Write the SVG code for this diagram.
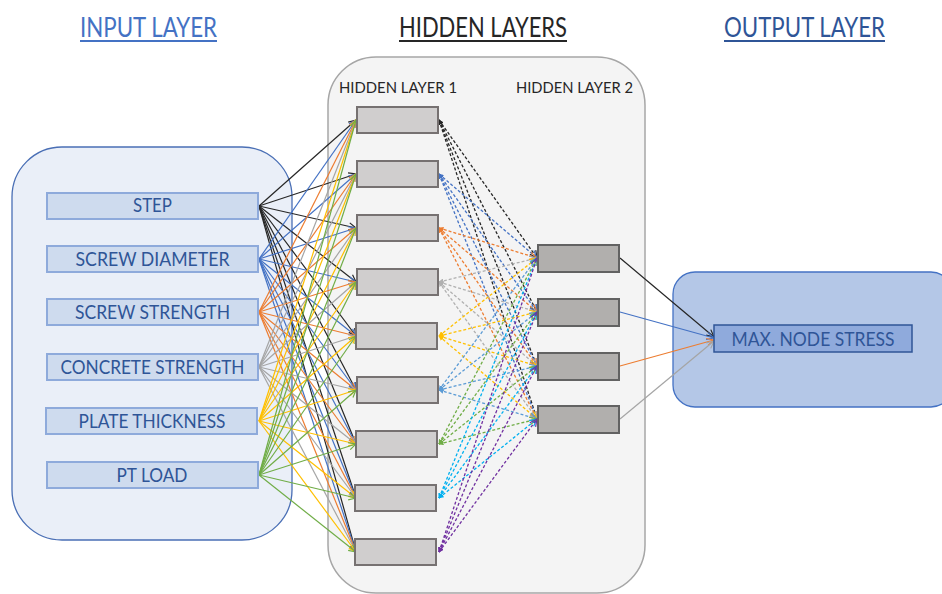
<svg xmlns="http://www.w3.org/2000/svg" width="942" height="594" viewBox="0 0 942 594">
<style>
text{font-family:Lato,"Liberation Sans",sans-serif}
.title{font-size:26px}
.lbl{font-size:16px;fill:#262626}
.in rect{fill:#cedbee;stroke:#8eaadb;stroke-width:2}
.in text{font-size:19px;fill:#2f5597;text-anchor:middle}
.h1 rect{fill:#d0cece;stroke:#767171;stroke-width:2}
.h2 rect{fill:#b1afad;stroke:#626262;stroke-width:2}
line{stroke-width:1.2;fill:none}
.ck{stroke:#262626;marker-end:url(#ak)}
.cb{stroke:#4472c4;marker-end:url(#ab)}
.co{stroke:#ed7d31;marker-end:url(#ao)}
.cg{stroke:#a5a5a5;marker-end:url(#ag)}
.cy{stroke:#ffc000;marker-end:url(#ay)}
.cgr{stroke:#70ad47;marker-end:url(#agr)}
.d line{stroke-dasharray:3 2;stroke-width:1.3}
.dk{stroke:#262626;marker-start:url(#sk);marker-end:url(#ak)}
.db{stroke:#4472c4;marker-start:url(#sb);marker-end:url(#ab)}
.do{stroke:#ed7d31;marker-start:url(#so);marker-end:url(#ao)}
.dg{stroke:#b0b0b0;marker-start:url(#sg);marker-end:url(#ag)}
.dy{stroke:#ffc000;marker-start:url(#sy);marker-end:url(#ay)}
.dlb{stroke:#5b9bd5;marker-start:url(#slb);marker-end:url(#alb)}
.dgr{stroke:#70ad47;marker-start:url(#sgr);marker-end:url(#agr)}
.dc{stroke:#00b0f0;marker-start:url(#sc);marker-end:url(#ac)}
.dp{stroke:#7030a0;marker-start:url(#sp);marker-end:url(#ap)}
</style>
<defs>
<marker id="ak" viewBox="0 0 10 10" refX="9" refY="5" markerWidth="9" markerHeight="9" orient="auto" markerUnits="userSpaceOnUse"><path d="M1,1 L9,5 L1,9" fill="none" stroke="#262626" stroke-width="1.3"/></marker>
<marker id="ab" viewBox="0 0 10 10" refX="9" refY="5" markerWidth="9" markerHeight="9" orient="auto" markerUnits="userSpaceOnUse"><path d="M1,1 L9,5 L1,9" fill="none" stroke="#4472c4" stroke-width="1.3"/></marker>
<marker id="ao" viewBox="0 0 10 10" refX="9" refY="5" markerWidth="9" markerHeight="9" orient="auto" markerUnits="userSpaceOnUse"><path d="M1,1 L9,5 L1,9" fill="none" stroke="#ed7d31" stroke-width="1.3"/></marker>
<marker id="ag" viewBox="0 0 10 10" refX="9" refY="5" markerWidth="9" markerHeight="9" orient="auto" markerUnits="userSpaceOnUse"><path d="M1,1 L9,5 L1,9" fill="none" stroke="#a5a5a5" stroke-width="1.3"/></marker>
<marker id="ay" viewBox="0 0 10 10" refX="9" refY="5" markerWidth="9" markerHeight="9" orient="auto" markerUnits="userSpaceOnUse"><path d="M1,1 L9,5 L1,9" fill="none" stroke="#ffc000" stroke-width="1.3"/></marker>
<marker id="agr" viewBox="0 0 10 10" refX="9" refY="5" markerWidth="9" markerHeight="9" orient="auto" markerUnits="userSpaceOnUse"><path d="M1,1 L9,5 L1,9" fill="none" stroke="#70ad47" stroke-width="1.3"/></marker>
<marker id="alb" viewBox="0 0 10 10" refX="9" refY="5" markerWidth="9" markerHeight="9" orient="auto" markerUnits="userSpaceOnUse"><path d="M1,1 L9,5 L1,9" fill="none" stroke="#5b9bd5" stroke-width="1.3"/></marker>
<marker id="ac" viewBox="0 0 10 10" refX="9" refY="5" markerWidth="9" markerHeight="9" orient="auto" markerUnits="userSpaceOnUse"><path d="M1,1 L9,5 L1,9" fill="none" stroke="#00b0f0" stroke-width="1.3"/></marker>
<marker id="ap" viewBox="0 0 10 10" refX="9" refY="5" markerWidth="9" markerHeight="9" orient="auto" markerUnits="userSpaceOnUse"><path d="M1,1 L9,5 L1,9" fill="none" stroke="#7030a0" stroke-width="1.3"/></marker>
<marker id="sk" viewBox="0 0 10 10" refX="1" refY="5" markerWidth="5" markerHeight="5" orient="auto" markerUnits="userSpaceOnUse"><path d="M0,5 L10,0 L10,10 Z" fill="#262626"/></marker>
<marker id="sb" viewBox="0 0 10 10" refX="1" refY="5" markerWidth="5" markerHeight="5" orient="auto" markerUnits="userSpaceOnUse"><path d="M0,5 L10,0 L10,10 Z" fill="#4472c4"/></marker>
<marker id="so" viewBox="0 0 10 10" refX="1" refY="5" markerWidth="5" markerHeight="5" orient="auto" markerUnits="userSpaceOnUse"><path d="M0,5 L10,0 L10,10 Z" fill="#ed7d31"/></marker>
<marker id="sg" viewBox="0 0 10 10" refX="1" refY="5" markerWidth="5" markerHeight="5" orient="auto" markerUnits="userSpaceOnUse"><path d="M0,5 L10,0 L10,10 Z" fill="#b0b0b0"/></marker>
<marker id="sy" viewBox="0 0 10 10" refX="1" refY="5" markerWidth="5" markerHeight="5" orient="auto" markerUnits="userSpaceOnUse"><path d="M0,5 L10,0 L10,10 Z" fill="#ffc000"/></marker>
<marker id="slb" viewBox="0 0 10 10" refX="1" refY="5" markerWidth="5" markerHeight="5" orient="auto" markerUnits="userSpaceOnUse"><path d="M0,5 L10,0 L10,10 Z" fill="#5b9bd5"/></marker>
<marker id="sgr" viewBox="0 0 10 10" refX="1" refY="5" markerWidth="5" markerHeight="5" orient="auto" markerUnits="userSpaceOnUse"><path d="M0,5 L10,0 L10,10 Z" fill="#70ad47"/></marker>
<marker id="sc" viewBox="0 0 10 10" refX="1" refY="5" markerWidth="5" markerHeight="5" orient="auto" markerUnits="userSpaceOnUse"><path d="M0,5 L10,0 L10,10 Z" fill="#00b0f0"/></marker>
<marker id="sp" viewBox="0 0 10 10" refX="1" refY="5" markerWidth="5" markerHeight="5" orient="auto" markerUnits="userSpaceOnUse"><path d="M0,5 L10,0 L10,10 Z" fill="#7030a0"/></marker>
</defs>
<rect width="942" height="594" fill="#ffffff"/>

<!-- titles -->
<g id="titles">
<text class="title" x="80" y="37" textLength="137" lengthAdjust="spacingAndGlyphs" fill="#4472c4">INPUT LAYER</text>
<rect x="80" y="40" width="137" height="2" fill="#4472c4"/>
<text class="title" x="399" y="37" textLength="168" lengthAdjust="spacingAndGlyphs" fill="#262626">HIDDEN LAYERS</text>
<rect x="399" y="40" width="168" height="2" fill="#262626"/>
<text class="title" x="724" y="37" textLength="161" lengthAdjust="spacingAndGlyphs" fill="#2f5597">OUTPUT LAYER</text>
<rect x="724" y="40" width="161" height="2" fill="#2f5597"/>
</g>

<!-- containers -->
<g id="input-layer">
<rect x="12" y="147" width="280" height="393" rx="50" ry="50" fill="#eaeff8" stroke="#4a6fb5" stroke-width="1.3"/>
</g>
<g id="hidden-layers">
<rect x="328" y="57" width="317" height="536" rx="48" ry="48" fill="#f4f4f4" stroke="#a6a6a6" stroke-width="1.5"/>
<text class="lbl" x="339" y="93" textLength="118" lengthAdjust="spacingAndGlyphs">HIDDEN LAYER 1</text>
<text class="lbl" x="516" y="93" textLength="117" lengthAdjust="spacingAndGlyphs">HIDDEN LAYER 2</text>
</g>
<g id="output-layer">
<rect x="673" y="272" width="280" height="135" rx="22" ry="22" fill="#b4c7e7" stroke="#4472c4" stroke-width="1.3"/>
</g>

<!-- connectors -->
<g id="connectors">
<g class="s">
<line class="ck" x1="259" y1="206" x2="356" y2="120"/>
<line class="ck" x1="259" y1="206" x2="356" y2="174"/>
<line class="ck" x1="259" y1="206" x2="356" y2="228"/>
<line class="ck" x1="259" y1="206" x2="356" y2="282"/>
<line class="ck" x1="259" y1="206" x2="356" y2="336"/>
<line class="ck" x1="259" y1="206" x2="356" y2="390"/>
<line class="ck" x1="259" y1="206" x2="356" y2="444"/>
<line class="ck" x1="259" y1="206" x2="356" y2="498"/>
<line class="ck" x1="259" y1="206" x2="356" y2="552"/>
<line class="cb" x1="259" y1="259" x2="356" y2="120"/>
<line class="cb" x1="259" y1="259" x2="356" y2="174"/>
<line class="cb" x1="259" y1="259" x2="356" y2="228"/>
<line class="cb" x1="259" y1="259" x2="356" y2="282"/>
<line class="cb" x1="259" y1="259" x2="356" y2="336"/>
<line class="cb" x1="259" y1="259" x2="356" y2="390"/>
<line class="cb" x1="259" y1="259" x2="356" y2="444"/>
<line class="cb" x1="259" y1="259" x2="356" y2="498"/>
<line class="cb" x1="259" y1="259" x2="356" y2="552"/>
<line class="co" x1="259" y1="312" x2="356" y2="120"/>
<line class="co" x1="259" y1="312" x2="356" y2="174"/>
<line class="co" x1="259" y1="312" x2="356" y2="228"/>
<line class="co" x1="259" y1="312" x2="356" y2="282"/>
<line class="co" x1="259" y1="312" x2="356" y2="336"/>
<line class="co" x1="259" y1="312" x2="356" y2="390"/>
<line class="co" x1="259" y1="312" x2="356" y2="444"/>
<line class="co" x1="259" y1="312" x2="356" y2="498"/>
<line class="co" x1="259" y1="312" x2="356" y2="552"/>
<line class="cg" x1="259" y1="367" x2="356" y2="120"/>
<line class="cg" x1="259" y1="367" x2="356" y2="174"/>
<line class="cg" x1="259" y1="367" x2="356" y2="228"/>
<line class="cg" x1="259" y1="367" x2="356" y2="282"/>
<line class="cg" x1="259" y1="367" x2="356" y2="336"/>
<line class="cg" x1="259" y1="367" x2="356" y2="390"/>
<line class="cg" x1="259" y1="367" x2="356" y2="444"/>
<line class="cg" x1="259" y1="367" x2="356" y2="498"/>
<line class="cg" x1="259" y1="367" x2="356" y2="552"/>
<line class="cy" x1="259" y1="421" x2="356" y2="120"/>
<line class="cy" x1="259" y1="421" x2="356" y2="174"/>
<line class="cy" x1="259" y1="421" x2="356" y2="228"/>
<line class="cy" x1="259" y1="421" x2="356" y2="282"/>
<line class="cy" x1="259" y1="421" x2="356" y2="336"/>
<line class="cy" x1="259" y1="421" x2="356" y2="390"/>
<line class="cy" x1="259" y1="421" x2="356" y2="444"/>
<line class="cy" x1="259" y1="421" x2="356" y2="498"/>
<line class="cy" x1="259" y1="421" x2="356" y2="552"/>
<line class="cgr" x1="259" y1="475" x2="356" y2="120"/>
<line class="cgr" x1="259" y1="475" x2="356" y2="174"/>
<line class="cgr" x1="259" y1="475" x2="356" y2="228"/>
<line class="cgr" x1="259" y1="475" x2="356" y2="282"/>
<line class="cgr" x1="259" y1="475" x2="356" y2="336"/>
<line class="cgr" x1="259" y1="475" x2="356" y2="390"/>
<line class="cgr" x1="259" y1="475" x2="356" y2="444"/>
<line class="cgr" x1="259" y1="475" x2="356" y2="498"/>
<line class="cgr" x1="259" y1="475" x2="356" y2="552"/>
</g>
<g class="d">
<line class="dk" x1="439" y1="120" x2="537" y2="258"/>
<line class="dk" x1="439" y1="120" x2="537" y2="312"/>
<line class="dk" x1="439" y1="120" x2="537" y2="366"/>
<line class="dk" x1="439" y1="120" x2="537" y2="419"/>
<line class="db" x1="439" y1="174" x2="537" y2="258"/>
<line class="db" x1="439" y1="174" x2="537" y2="312"/>
<line class="db" x1="439" y1="174" x2="537" y2="366"/>
<line class="db" x1="439" y1="174" x2="537" y2="419"/>
<line class="do" x1="439" y1="228" x2="537" y2="258"/>
<line class="do" x1="439" y1="228" x2="537" y2="312"/>
<line class="do" x1="439" y1="228" x2="537" y2="366"/>
<line class="do" x1="439" y1="228" x2="537" y2="419"/>
<line class="dg" x1="439" y1="282" x2="537" y2="258"/>
<line class="dg" x1="439" y1="282" x2="537" y2="312"/>
<line class="dg" x1="439" y1="282" x2="537" y2="366"/>
<line class="dg" x1="439" y1="282" x2="537" y2="419"/>
<line class="dy" x1="439" y1="336" x2="537" y2="258"/>
<line class="dy" x1="439" y1="336" x2="537" y2="312"/>
<line class="dy" x1="439" y1="336" x2="537" y2="366"/>
<line class="dy" x1="439" y1="336" x2="537" y2="419"/>
<line class="dlb" x1="439" y1="390" x2="537" y2="258"/>
<line class="dlb" x1="439" y1="390" x2="537" y2="312"/>
<line class="dlb" x1="439" y1="390" x2="537" y2="366"/>
<line class="dlb" x1="439" y1="390" x2="537" y2="419"/>
<line class="dgr" x1="439" y1="444" x2="537" y2="258"/>
<line class="dgr" x1="439" y1="444" x2="537" y2="312"/>
<line class="dgr" x1="439" y1="444" x2="537" y2="366"/>
<line class="dgr" x1="439" y1="444" x2="537" y2="419"/>
<line class="dc" x1="439" y1="498" x2="537" y2="258"/>
<line class="dc" x1="439" y1="498" x2="537" y2="312"/>
<line class="dc" x1="439" y1="498" x2="537" y2="366"/>
<line class="dc" x1="439" y1="498" x2="537" y2="419"/>
<line class="dp" x1="439" y1="552" x2="537" y2="258"/>
<line class="dp" x1="439" y1="552" x2="537" y2="312"/>
<line class="dp" x1="439" y1="552" x2="537" y2="366"/>
<line class="dp" x1="439" y1="552" x2="537" y2="419"/>
</g>
<g class="s">
<line class="ck" x1="620" y1="258" x2="714" y2="337"/>
<line class="cb" x1="620" y1="312" x2="714" y2="338"/>
<line class="co" x1="620" y1="366" x2="714" y2="340"/>
<line class="cg" x1="620" y1="419" x2="714" y2="341"/>
</g>
</g>

<!-- input nodes -->
<g id="in-step" class="in"><rect x="47" y="193" width="211" height="26"/><text x="152.5" y="212" textLength="39" lengthAdjust="spacingAndGlyphs">STEP</text></g>
<g id="in-screw-diameter" class="in"><rect x="47" y="246" width="211" height="26"/><text x="152.5" y="266" textLength="154" lengthAdjust="spacingAndGlyphs">SCREW DIAMETER</text></g>
<g id="in-screw-strength" class="in"><rect x="47" y="299" width="211" height="26"/><text x="152.5" y="319" textLength="155" lengthAdjust="spacingAndGlyphs">SCREW STRENGTH</text></g>
<g id="in-concrete-strength" class="in"><rect x="47" y="354" width="211" height="26"/><text x="152.5" y="374" textLength="184" lengthAdjust="spacingAndGlyphs">CONCRETE STRENGTH</text></g>
<g id="in-plate-thickness" class="in"><rect x="46" y="408" width="211" height="26"/><text x="152" y="428" textLength="147" lengthAdjust="spacingAndGlyphs">PLATE THICKNESS</text></g>
<g id="in-pt-load" class="in"><rect x="47" y="462" width="211" height="26"/><text x="152" y="482" textLength="71" lengthAdjust="spacingAndGlyphs">PT LOAD</text></g>

<!-- hidden layer 1 -->
<g id="h1-1" class="h1"><rect x="357" y="107" width="81" height="26"/></g>
<g id="h1-2" class="h1"><rect x="357" y="161" width="81" height="26"/></g>
<g id="h1-3" class="h1"><rect x="357" y="215" width="81" height="26"/></g>
<g id="h1-4" class="h1"><rect x="357" y="269" width="81" height="26"/></g>
<g id="h1-5" class="h1"><rect x="356" y="323" width="81" height="26"/></g>
<g id="h1-6" class="h1"><rect x="357" y="377" width="81" height="26"/></g>
<g id="h1-7" class="h1"><rect x="356" y="431" width="81" height="26"/></g>
<g id="h1-8" class="h1"><rect x="355" y="485" width="81" height="26"/></g>
<g id="h1-9" class="h1"><rect x="355" y="539" width="81" height="26"/></g>

<!-- hidden layer 2 -->
<g id="h2-1" class="h2"><rect x="538" y="245" width="81" height="27"/></g>
<g id="h2-2" class="h2"><rect x="538" y="299" width="81" height="27"/></g>
<g id="h2-3" class="h2"><rect x="538" y="353" width="81" height="27"/></g>
<g id="h2-4" class="h2"><rect x="538" y="406" width="81" height="27"/></g>

<!-- output node -->
<g id="out-max-node-stress">
<rect x="714" y="325" width="198" height="27" fill="#8faadc" stroke="#2f5597" stroke-width="1.5"/>
<text x="813" y="346" font-size="20" fill="#2f5597" text-anchor="middle" textLength="163" lengthAdjust="spacingAndGlyphs">MAX. NODE STRESS</text>
</g>
</svg>
